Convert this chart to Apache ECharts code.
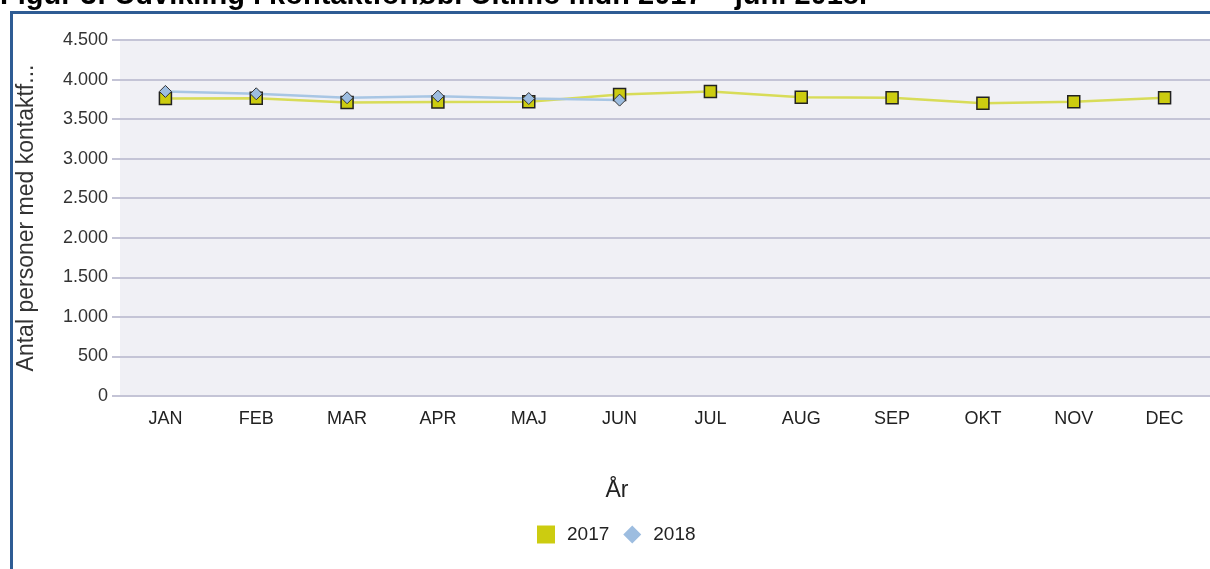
<!DOCTYPE html>
<html>
<head>
<meta charset="utf-8">
<script src="https://cdn.jsdelivr.net/npm/echarts@6/dist/echarts.min.js"></script>
<style>
html,body{margin:0;padding:0;background:#fff;}
#chart{width:1210px;height:569px;}
</style>
</head>
<body>
<div id="chart"></div>
<script>
const categories = ['JAN','FEB','MAR','APR','MAJ','JUN','JUL','AUG','SEP','OKT','NOV','DEC'];
const values2017 = [3760, 3765, 3710, 3715, 3720, 3810, 3850, 3775, 3770, 3700, 3720, 3770];
const values2018 = [3850, 3820, 3770, 3790, 3760, 3740, null, null, null, null, null, null];
const yTicks = [0, 500, 1000, 1500, 2000, 2500, 3000, 3500, 4000, 4500];

function fmt(v){ return String(v).replace(/\B(?=(\d{3})+(?!\d))/g, '.'); }

const chart = echarts.init(document.getElementById('chart'));
const font = 'Liberation Sans, Arial, sans-serif';
chart.setOption({
  animation: false,
  backgroundColor: '#ffffff',
  grid: {left: 120, right: 0, top: 40, bottom: 173, show: true, backgroundColor: '#f0f0f5', borderWidth: 0},
  graphic: [
    {type: 'text', left: 0, top: -19, style: {text: 'Figur 3: Udvikling i kontaktforløb. Ultimo mdr. 2017 – juni 2018.', font: 'bold 29px "Liberation Sans", Arial, sans-serif', fill: '#000'}},
    {type: 'line', shape: {x1: 10, y1: 12.5, x2: 1210, y2: 12.5}, style: {stroke: '#2e5c94', lineWidth: 3}},
    {type: 'line', shape: {x1: 11.5, y1: 11, x2: 11.5, y2: 569}, style: {stroke: '#2e5c94', lineWidth: 3}},
    {type: 'text', x: 617, y: 491, style: {text: 'År', font: '23px "Liberation Sans", Arial, sans-serif', fill: '#222', align: 'center', verticalAlign: 'middle'}}
  ],
  legend: {
    left: 532, top: 520,
    itemWidth: 18, itemHeight: 18, itemGap: 14,
    textStyle: {fontFamily: font, fontSize: 19, color: '#222', padding: [0, 0, 0, 7]},
    itemStyle: {borderWidth: 0},
    data: [{name: '2017', icon: 'rect'}, {name: '2018', icon: 'diamond'}]
  },
  xAxis: {
    type: 'category', data: categories, boundaryGap: true,
    axisLine: {show: false}, axisTick: {show: false},
    axisLabel: {fontFamily: font, fontSize: 18, color: '#222', margin: 14}
  },
  yAxis: {
    type: 'value', min: 0, max: 4500, interval: 500,
    name: 'Antal personer med kontaktf...', nameLocation: 'middle', nameGap: 82,
    nameTextStyle: {fontFamily: font, fontSize: 23, color: '#333'},
    axisLine: {show: false},
    axisTick: {show: true, length: 8, lineStyle: {color: '#c4c4d6', width: 2}},
    axisLabel: {fontFamily: font, fontSize: 18, color: '#333', margin: 12, formatter: v => fmt(v)},
    splitLine: {lineStyle: {color: '#c4c4d6', width: 2}}
  },
  series: [
    {
      name: '2017', type: 'line', data: values2017,
      symbol: 'rect', symbolSize: 12,
      lineStyle: {color: '#d8dc58', width: 2.5},
      itemStyle: {color: '#cccc10', borderColor: '#222', borderWidth: 1.5}
    },
    {
      name: '2018', type: 'line', data: values2018,
      symbol: 'diamond', symbolSize: 12,
      lineStyle: {color: '#a8c6e4', width: 2.5},
      itemStyle: {color: '#9dbde0', borderColor: '#333', borderWidth: 1}
    }
  ]
});
</script>
</body>
</html>
